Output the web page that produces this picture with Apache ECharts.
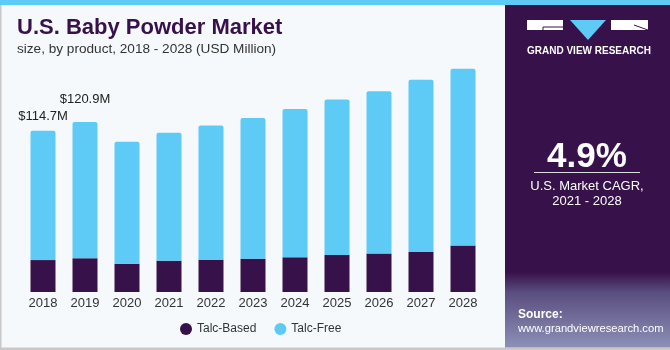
<!DOCTYPE html>
<html>
<head>
<meta charset="utf-8">
<script src="https://cdn.jsdelivr.net/npm/echarts@6/dist/echarts.min.js"></script>
<style>
  html, body { margin: 0; padding: 0; background: #f5f9fc; }
  #chart { width: 670px; height: 350px; }
</style>
</head>
<body>
<div id="chart"></div>
<script>
const years = ["2018", "2019", "2020", "2021", "2022", "2023", "2024", "2025", "2026", "2027", "2028"];
const talcBased = [22.7, 24.0, 20.1, 22.3, 23.0, 23.7, 24.7, 26.3, 27.3, 28.5, 33.0];
const talcFree = [92.0, 96.9, 86.7, 90.9, 95.4, 100.1, 105.5, 110.6, 115.5, 122.4, 125.7];
const totalLabels = ["$114.7M", "$120.9M"];

const dark = "#37114a";
const blue = "#5ecbf7";
const font = "Liberation Sans";

const chart = echarts.init(document.getElementById("chart"));

// only the first two bars get a total label, staggered a bit
const labelDist = [8, 16];
const freeData = talcFree.map((v, i) => {
  if (i < totalLabels.length) {
    return {
      value: v,
      label: { show: true, position: "top", distance: labelDist[i], formatter: totalLabels[i] }
    };
  }
  return v;
});

chart.setOption({
  backgroundColor: "#f5f9fc",
  animation: false,
  textStyle: { fontFamily: font },
  grid: { left: 22, right: 186, top: 67, height: 225 },
  xAxis: {
    type: "category",
    data: years,
    axisLine: { show: false },
    axisTick: { show: false },
    axisLabel: { color: "#333", fontSize: 13, margin: 5 }
  },
  yAxis: { type: "value", min: 0, max: 160, show: false },
  legend: {
    top: 318,
    left: 175,
    itemWidth: 12,
    itemHeight: 12,
    itemGap: 18,
    icon: "circle",
    textStyle: { color: "#333", fontSize: 12 },
    data: ["Talc-Based", "Talc-Free"]
  },
  series: [
    {
      name: "Talc-Based",
      type: "bar",
      stack: "total",
      barWidth: 25,
      data: talcBased,
      itemStyle: { color: dark }
    },
    {
      name: "Talc-Free",
      type: "bar",
      stack: "total",
      barWidth: 25,
      data: freeData,
      itemStyle: { color: blue, borderRadius: [2, 2, 0, 0] },
      label: { color: "#222", fontSize: 13 }
    }
  ],
  graphic: [
    { type: "rect", shape: { x: 0, y: 0, width: 670, height: 5 }, style: { fill: "#5ecbf7" } },
    { type: "rect", shape: { x: 0, y: 5, width: 1.5, height: 345 }, style: { fill: "#c8c8c8" } },
    { type: "rect", shape: { x: 0, y: 347.5, width: 670, height: 2.5 }, style: { fill: "#c8c8c8" } },
    { type: "text", left: 17, top: 17, style: { text: "U.S. Baby Powder Market", fill: dark, font: "bold 22px " + font } },
    { type: "text", left: 17, top: 42, style: { text: "size, by product, 2018 - 2028 (USD Million)", fill: "#333", font: "13.6px " + font } },
    // side panel
    {
      type: "rect",
      shape: { x: 505, y: 5, width: 165, height: 342.5 },
      style: {
        fill: new echarts.graphic.LinearGradient(0, 0, 0, 1, [
          { offset: 0, color: dark },
          { offset: 0.78, color: dark },
          { offset: 0.84, color: "#5a4f80" },
          { offset: 1, color: "#8c90b8" }
        ])
      }
    },
    { type: "rect", shape: { x: 527, y: 20, width: 36, height: 10 }, style: { fill: "#fff" } },
    { type: "polyline", shape: { points: [[543, 30], [543, 27], [563, 27]] }, style: { stroke: dark, lineWidth: 1, fill: null } },
    { type: "polygon", shape: { points: [[570, 20], [606, 20], [588, 40]] }, style: { fill: "#5ecbf7" } },
    { type: "rect", shape: { x: 611, y: 20, width: 37, height: 10 }, style: { fill: "#fff" } },
    { type: "line", shape: { x1: 634, y1: 25, x2: 648, y2: 30 }, style: { stroke: dark, lineWidth: 1 } },
    { type: "text", left: 527, top: 46, style: { text: "GRAND VIEW RESEARCH", fill: "#fff", font: "bold 10px " + font } },
    { type: "text", x: 587, y: 157, style: { text: "4.9%", fill: "#fff", font: "bold 35px " + font, align: "center", verticalAlign: "middle" } },
    { type: "rect", shape: { x: 534, y: 172, width: 106, height: 1 }, style: { fill: "#ddd" } },
    { type: "text", x: 587, y: 186, style: { text: "U.S. Market CAGR,", fill: "#fff", font: "13px " + font, align: "center", verticalAlign: "middle" } },
    { type: "text", x: 587, y: 201, style: { text: "2021 - 2028", fill: "#fff", font: "13px " + font, align: "center", verticalAlign: "middle" } },
    { type: "text", left: 518, top: 309, style: { text: "Source:", fill: "#fff", font: "bold 12px " + font } },
    { type: "text", left: 518, top: 323, style: { text: "www.grandviewresearch.com", fill: "#fff", font: "11.2px " + font } }
  ]
});
</script>
</body>
</html>
